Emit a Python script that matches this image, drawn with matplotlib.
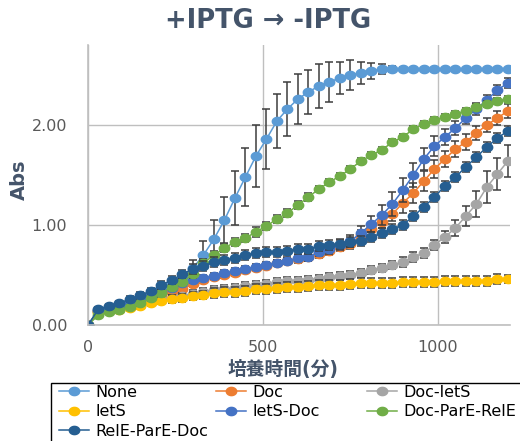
import numpy as np
import matplotlib.pyplot as plt
from matplotlib.lines import Line2D
from matplotlib.patches import Rectangle

plt.rcParams['font.family'] = ['DejaVu Sans', 'Noto Sans CJK JP']

# culture time (min)
minutes = [0, 30, 60, 90, 120, 150, 180, 210, 240, 270, 300, 330, 360, 390,
           420, 450, 480, 510, 540, 570, 600, 630, 660, 690, 720, 750, 780,
           810, 840, 870, 900, 930, 960, 990, 1020, 1050, 1080, 1110, 1140,
           1170, 1200]

strains = ['None', 'Doc', 'Doc-letS', 'letS', 'letS-Doc',
           'Doc-ParE-RelE', 'RelE-ParE-Doc']
colors = ['#5B9BD5', '#ED7D31', '#A5A5A5', '#FFC000', '#4472C4',
          '#70AD47', '#255E91']

abs_none = [0.00, 0.14, 0.17, 0.19, 0.22, 0.26, 0.30, 0.35, 0.40, 0.46, 0.57,
            0.70, 0.86, 1.05, 1.27, 1.48, 1.69, 1.86, 2.04, 2.16, 2.26, 2.33,
            2.39, 2.43, 2.47, 2.50, 2.52, 2.54, 2.56, 2.56, 2.56, 2.56, 2.56,
            2.56, 2.56, 2.56, 2.56, 2.56, 2.56, 2.56, 2.56]
err_none = [0.00, 0.01, 0.01, 0.02, 0.02, 0.02, 0.03, 0.03, 0.04, 0.05, 0.08,
            0.14, 0.19, 0.23, 0.27, 0.29, 0.31, 0.30, 0.27, 0.27, 0.25, 0.22,
            0.22, 0.20, 0.16, 0.15, 0.11, 0.08, 0.05, 0.03, 0.02, 0.01, 0.01,
            0.01, 0.01, 0.01, 0.01, 0.01, 0.01, 0.01, 0.01]

abs_doc = [0.00, 0.14, 0.16, 0.17, 0.19, 0.22, 0.25, 0.30, 0.33, 0.36, 0.41,
           0.45, 0.48, 0.50, 0.52, 0.55, 0.57, 0.59, 0.62, 0.64, 0.66, 0.68,
           0.71, 0.74, 0.78, 0.81, 0.90, 0.96, 1.03, 1.11, 1.22, 1.32, 1.44,
           1.56, 1.66, 1.76, 1.83, 1.92, 2.00, 2.07, 2.14]
err_doc = [0.00, 0.02, 0.02, 0.02, 0.02, 0.03, 0.03, 0.03, 0.03, 0.03, 0.03,
           0.03, 0.03, 0.03, 0.03, 0.03, 0.03, 0.03, 0.03, 0.03, 0.04, 0.04,
           0.04, 0.04, 0.04, 0.05, 0.05, 0.06, 0.06, 0.07, 0.10, 0.10, 0.10,
           0.09, 0.08, 0.08, 0.08, 0.07, 0.07, 0.07, 0.07]

abs_doc_lets = [0.00, 0.13, 0.15, 0.16, 0.18, 0.20, 0.23, 0.25, 0.27, 0.29,
                0.31, 0.33, 0.35, 0.36, 0.37, 0.39, 0.40, 0.41, 0.43, 0.44,
                0.44, 0.45, 0.46, 0.48, 0.49, 0.50, 0.52, 0.55, 0.57, 0.60,
                0.63, 0.68, 0.72, 0.80, 0.88, 0.97, 1.09, 1.21, 1.38, 1.51,
                1.64]
err_doc_lets = [0.00, 0.02, 0.02, 0.02, 0.03, 0.03, 0.03, 0.03, 0.03, 0.03,
                0.04, 0.04, 0.04, 0.04, 0.04, 0.04, 0.04, 0.04, 0.04, 0.04,
                0.04, 0.04, 0.04, 0.04, 0.04, 0.04, 0.04, 0.04, 0.04, 0.04,
                0.05, 0.05, 0.05, 0.05, 0.06, 0.08, 0.10, 0.13, 0.16, 0.16,
                0.16]

abs_lets = [0.00, 0.13, 0.14, 0.15, 0.17, 0.19, 0.22, 0.24, 0.26, 0.27, 0.29,
            0.30, 0.32, 0.33, 0.33, 0.34, 0.36, 0.36, 0.37, 0.38, 0.38, 0.39,
            0.40, 0.40, 0.40, 0.41, 0.42, 0.42, 0.42, 0.42, 0.43, 0.43, 0.43,
            0.43, 0.44, 0.44, 0.44, 0.44, 0.44, 0.46, 0.46]
err_lets = [0.00, 0.02, 0.02, 0.02, 0.03, 0.03, 0.03, 0.03, 0.04, 0.04, 0.04,
            0.04, 0.05, 0.05, 0.05, 0.05, 0.05, 0.05, 0.05, 0.05, 0.05, 0.05,
            0.05, 0.05, 0.05, 0.05, 0.05, 0.05, 0.05, 0.05, 0.05, 0.05, 0.05,
            0.05, 0.05, 0.05, 0.05, 0.05, 0.05, 0.05, 0.04]

abs_lets_doc = [0.00, 0.15, 0.17, 0.19, 0.22, 0.25, 0.29, 0.33, 0.37, 0.42,
                0.45, 0.47, 0.49, 0.52, 0.54, 0.56, 0.58, 0.60, 0.62, 0.64,
                0.67, 0.68, 0.73, 0.76, 0.80, 0.84, 0.92, 1.01, 1.10, 1.21,
                1.35, 1.50, 1.66, 1.79, 1.88, 1.97, 2.07, 2.16, 2.25, 2.35,
                2.42]
err_lets_doc = [0.00, 0.02, 0.02, 0.02, 0.02, 0.02, 0.03, 0.03, 0.03, 0.03,
                0.03, 0.03, 0.03, 0.03, 0.03, 0.03, 0.03, 0.03, 0.03, 0.03,
                0.03, 0.04, 0.04, 0.05, 0.05, 0.06, 0.07, 0.08, 0.10, 0.12,
                0.12, 0.12, 0.11, 0.10, 0.08, 0.07, 0.06, 0.06, 0.05, 0.05,
                0.05]

abs_doc_pare_rele = [0.00, 0.10, 0.13, 0.15, 0.18, 0.22, 0.27, 0.32, 0.38,
                     0.43, 0.51, 0.62, 0.70, 0.77, 0.83, 0.87, 0.93, 0.99,
                     1.06, 1.12, 1.20, 1.28, 1.36, 1.43, 1.49, 1.56, 1.64,
                     1.70, 1.75, 1.83, 1.88, 1.96, 2.01, 2.05, 2.08, 2.11,
                     2.14, 2.18, 2.21, 2.24, 2.26]
err_doc_pare_rele = [0.00, 0.02, 0.02, 0.02, 0.02, 0.03, 0.03, 0.03, 0.03,
                     0.03, 0.04, 0.04, 0.04, 0.04, 0.04, 0.04, 0.05, 0.04,
                     0.04, 0.04, 0.04, 0.04, 0.03, 0.03, 0.03, 0.03, 0.03,
                     0.03, 0.03, 0.03, 0.03, 0.03, 0.03, 0.03, 0.03, 0.03,
                     0.03, 0.03, 0.03, 0.03, 0.03]

abs_rele_pare_doc = [0.00, 0.16, 0.19, 0.22, 0.26, 0.30, 0.34, 0.40, 0.45,
                     0.51, 0.56, 0.59, 0.63, 0.65, 0.67, 0.70, 0.72, 0.73,
                     0.73, 0.74, 0.76, 0.76, 0.79, 0.80, 0.81, 0.83, 0.84,
                     0.88, 0.92, 0.96, 1.00, 1.09, 1.18, 1.28, 1.39, 1.48,
                     1.58, 1.68, 1.78, 1.87, 1.94]
err_rele_pare_doc = [0.00, 0.02, 0.02, 0.02, 0.03, 0.03, 0.03, 0.04, 0.04,
                     0.04, 0.05, 0.05, 0.05, 0.05, 0.05, 0.05, 0.05, 0.05,
                     0.05, 0.05, 0.05, 0.05, 0.05, 0.05, 0.05, 0.05, 0.05,
                     0.05, 0.05, 0.05, 0.05, 0.05, 0.05, 0.05, 0.05, 0.05,
                     0.05, 0.05, 0.05, 0.05, 0.05]

values = [abs_none, abs_doc, abs_doc_lets, abs_lets, abs_lets_doc,
          abs_doc_pare_rele, abs_rele_pare_doc]
errors = [err_none, err_doc, err_doc_lets, err_lets, err_lets_doc,
          err_doc_pare_rele, err_rele_pare_doc]

text_col = '#44546A'
grid_col = '#BFBFBF'

# slightly wide oval marker
th = np.linspace(0, 2 * np.pi, 41)
oval = np.column_stack([np.cos(th), 0.82 * np.sin(th)])

fig = plt.figure(figsize=(5.2, 4.41), dpi=100)
ax = fig.add_axes([88 / 520, 1 - 325 / 441, 422 / 520, 280 / 441])

for name, y, e, c in zip(strains, values, errors, colors):
    # error bars first, then the series line and markers on top
    ax.errorbar(minutes, y, yerr=e, fmt='none', ecolor='#3d3d3d',
                elinewidth=1.1, capsize=3, capthick=1.1)
    ax.plot(minutes, y, '-', marker=oval, color=c, markersize=8.5,
            markeredgewidth=0, linewidth=1.1, label=name)

ax.set_xlim(0, 1206)
ax.set_ylim(0, 2.8)
ax.set_xticks([0, 500, 1000])
ax.set_yticks([0, 1, 2])
ax.set_yticklabels(['0.00', '1.00', '2.00'])
ax.tick_params(length=0, labelsize=11.5, colors='#595959')
ax.tick_params(axis='x', pad=11)
ax.tick_params(axis='y', pad=15)
ax.grid(True, color=grid_col, linewidth=1.0)
ax.set_axisbelow(True)
for side in ['top', 'right']:
    ax.spines[side].set_visible(False)
for side in ['left', 'bottom']:
    ax.spines[side].set_color(grid_col)
    ax.spines[side].set_linewidth(1.2)

fig.text(0.515, 1 - 21 / 441, '+IPTG → -IPTG', ha='center', va='center',
         fontsize=18.5, fontweight='bold', color=text_col)
fig.text(19 / 520, 1 - 180 / 441, 'Abs', rotation=90, ha='center',
         va='center', fontsize=14, fontweight='bold', color=text_col)
fig.text(283 / 520, 1 - 369 / 441, '培養時間(分)', ha='center', va='center',
         fontsize=13.5, fontweight='bold', color=text_col)

# legend laid out row by row in three columns, one shared frame
fig.add_artist(Rectangle((51 / 520, -0.1), 1.0, 0.1 + (441 - 383) / 441,
                         transform=fig.transFigure, fill=False,
                         edgecolor='black', linewidth=1.0, clip_on=False))
col_x = [59, 216, 367]
for col, x0 in enumerate(col_x):
    idx = list(range(col, len(strains), 3))
    handles = [Line2D([], [], color=colors[i], marker=oval, markersize=8.5,
                      markeredgewidth=0, linewidth=1.1) for i in idx]
    fig.legend(handles, [strains[i] for i in idx], loc='upper left',
               bbox_to_anchor=(x0 / 520, 1 - 385 / 441), frameon=False,
               fontsize=11.5, borderpad=0, borderaxespad=0, handlelength=1.9,
               handletextpad=0.4, labelspacing=0.28, labelcolor='black')

fig.savefig('out.png', dpi=100)
